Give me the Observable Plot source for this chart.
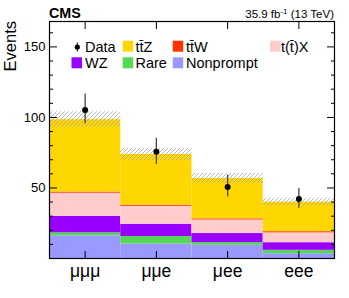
<!DOCTYPE html>
<html>
<head>
<meta charset="utf-8">
<script src="https://cdn.jsdelivr.net/npm/d3@7"></script>
<script src="https://cdn.jsdelivr.net/npm/@observablehq/plot@0.6"></script>
<style>
  html, body { margin: 0; padding: 0; background: #fff; }
  svg { font-family: "Liberation Sans", Arial, Helvetica, sans-serif; }
</style>
</head>
<body>
<div id="chart"></div>
<script>
// ---- data ----
const channels = ["μμμ", "μμe", "μee", "eee"];
const processes = ["Nonprompt", "Rare", "WZ", "t(t\u0304)X", "tt\u0304W", "tt\u0304Z"];
const colors = ["#9999ff", "#55d855", "#9900ff", "#ffcccc", "#ff3300", "#ffd700"];
const nonprompt = [16.1, 10.3, 9.3, 3.4];
const rare      = [2.1, 5.3, 1.9, 2.4];
const wz        = [11.7, 8.7, 6.5, 5.4];
const ttx       = [16.4, 12.7, 9.6, 7.0];
const ttw       = [0.8, 0.8, 0.8, 0.8];
const ttz       = [51.3, 36.0, 28.6, 20.9];
const bkgUnc    = [5.6, 4.4, 3.5, 2.7];
const dataVals  = [105.3, 75.6, 50.7, 42.1];
const dataLo    = [95.5, 66.7, 43.7, 35.6];
const dataHi    = [116.6, 85.2, 59.0, 49.6];
const yMajor = [50, 100, 150];
const yMinor = [10, 20, 30, 40, 60, 70, 80, 90, 110, 120, 130, 140, 160];

const series = [nonprompt, rare, wz, ttx, ttw, ttz];
const stackRows = [];
channels.forEach((c, i) => {
  series.forEach((s, k) => stackRows.push({x1: i, x2: i + 1, process: processes[k], value: s[i]}));
});
const totals = channels.map((c, i) => {
  const t = series.reduce((a, s) => a + s[i], 0);
  return {x1: i, x2: i + 1, lo: t - bkgUnc[i], hi: t + bkgUnc[i]};
});
const points = channels.map((c, i) => ({x: i + 0.5, y: dataVals[i], lo: dataLo[i], hi: dataHi[i]}));
const xTicks = channels.map((c, i) => i + 0.5);

const chart = Plot.plot({
  width: 349,
  height: 298,
  marginLeft: 49,
  marginRight: 15,
  marginTop: 21,
  marginBottom: 40,
  style: {fontFamily: "'Liberation Sans', Arial, sans-serif", background: "#fff", overflow: "visible"},
  x: {domain: [0, 4]},
  y: {domain: [0, 168]},
  color: {domain: processes, range: colors},
  marks: [
    Plot.rectY(stackRows, {x1: "x1", x2: "x2", y: "value", fill: "process", order: processes}),
    Plot.rectY(totals, {x1: "x1", x2: "x2", y1: "lo", y2: "hi", fill: "url(#hatch)"}),
    Plot.ruleX(points, {x: "x", y1: "lo", y2: "hi", stroke: "#444", strokeWidth: 1.3}),
    Plot.dot(points, {x: "x", y: "y", r: 3, fill: "black", stroke: "none"}),
    // axes
    Plot.axisY({ticks: yMajor, tickSize: 0, tickPadding: 4, fontSize: 13, label: null}),
    Plot.axisY({anchor: "left", ticks: yMajor, tickSize: -8, text: null, label: null, stroke: "black"}),
    Plot.axisY({anchor: "left", ticks: yMinor, tickSize: -4, text: null, label: null, stroke: "black"}),
    Plot.axisY({anchor: "right", ticks: yMajor, tickSize: -8, text: null, label: null, stroke: "black"}),
    Plot.axisY({anchor: "right", ticks: yMinor, tickSize: -4, text: null, label: null, stroke: "black"}),
    Plot.axisX({ticks: xTicks, tickFormat: d => channels[Math.floor(d)], tickSize: 0, tickPadding: 6, fontSize: 17.5, label: null}),
    Plot.axisX({anchor: "bottom", ticks: xTicks, tickSize: -7, text: null, label: null, stroke: "black"}),
    Plot.axisX({anchor: "top", ticks: xTicks, tickSize: -7, text: null, label: null, stroke: "black"}),
    Plot.frame({stroke: "black", strokeWidth: 1.2})
  ]
});

document.getElementById("chart").appendChild(chart);
const svg = d3.select(chart);

// hatch pattern
const defs = svg.insert("defs", ":first-child");
const pat = defs.append("pattern").attr("id", "hatch").attr("patternUnits", "userSpaceOnUse")
  .attr("width", 4).attr("height", 4);
pat.append("path").attr("d", "M-1,1 l2,-2 M0,4 l4,-4 M3,5 l2,-2")
  .attr("stroke", "#a8a8a8").attr("stroke-width", 0.8);

// titles
const g = svg.append("g").attr("text-anchor", "start");
g.append("text").attr("x", 49).attr("y", 17.5).attr("font-weight", "bold")
  .attr("font-size", 14.3).text("CMS");
const lumi = g.append("text").attr("x", 334).attr("y", 17.5).attr("text-anchor", "end")
  .attr("font-size", 11.5);
lumi.append("tspan").text("35.9 fb");
lumi.append("tspan").attr("dy", -4).attr("font-size", 8).text("-1");
lumi.append("tspan").attr("dy", 4).text(" (13 TeV)");
g.append("text").attr("transform", "translate(15.5,21) rotate(-90)")
  .attr("text-anchor", "end").attr("font-size", 16.5).text("Events");

// legend
const leg = svg.append("g").attr("font-size", 14.5).attr("text-anchor", "start");
leg.append("line").attr("x1", 77.3).attr("x2", 77.3).attr("y1", 42.5).attr("y2", 51.5)
  .attr("stroke", "black").attr("stroke-width", 1);
leg.append("circle").attr("cx", 77.3).attr("cy", 47).attr("r", 2.6).attr("fill", "black");
leg.append("text").attr("x", 85).attr("y", 51.5).text("Data");
const items = [
  {k: 5, bx: 122.7, by: 40.7, tx: 135.5, ty: 51.5},
  {k: 4, bx: 172.7, by: 40.7, tx: 186, ty: 51.5},
  {k: 3, bx: 270, by: 40.7, tx: 281, ty: 51.5},
  {k: 2, bx: 71.5, by: 57.3, tx: 85, ty: 68},
  {k: 1, bx: 122.7, by: 57.3, tx: 135.5, ty: 68},
  {k: 0, bx: 172.7, by: 57.3, tx: 186, ty: 68}
];
items.forEach(it => {
  leg.append("rect").attr("x", it.bx).attr("y", it.by).attr("width", 10.5).attr("height", 11)
    .attr("fill", colors[it.k]);
  leg.append("text").attr("x", it.tx).attr("y", it.ty).text(processes[it.k]);
});
</script>
</body>
</html>
